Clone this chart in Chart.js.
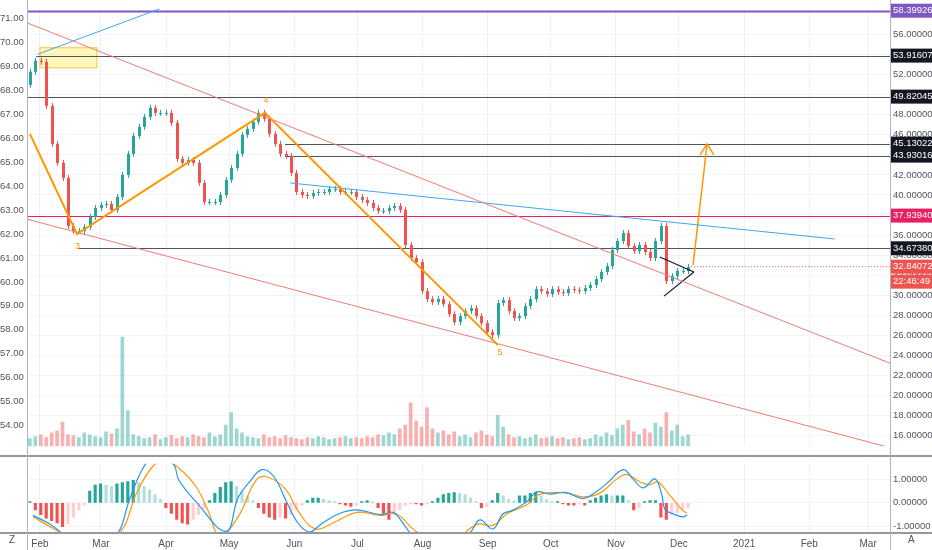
<!DOCTYPE html>
<html>
<head>
<meta charset="utf-8">
<script src="https://cdn.jsdelivr.net/npm/chart.js@4"></script>
<style>
  body { margin: 0; background: #fff; font-family: "Liberation Sans", Arial, sans-serif; }
  #wrap { position: relative; width: 932px; height: 550px; }
  #main { position: absolute; left: 0; top: 0; }
  #macd { position: absolute; left: 0; top: 455px; }
  .corner { position: absolute; top: 534px; font-size: 10px; color: #50535e; }
</style>
</head>
<body>
<div id="wrap">
  <canvas id="main" width="932" height="455"></canvas>
  <canvas id="macd" width="932" height="95"></canvas>
  <div class="corner" style="left:9px">Z</div>
  <div class="corner" style="left:908px">A</div>
</div>
<script>
// candles: one every ~2.6 days starting late January 2020
const startDay = 26.2;
const stepDays = 2.588;
const firstOpen = 51.0;
const closes = [
  52.3, 53.4, 53.3, 48.9, 45.1, 43.2, 41.7, 36.9, 36.4, 36.4,
  36.8, 37.8, 38.7, 39.0, 39.1, 38.5, 39.8, 42.0, 44.1, 45.9,
  46.8, 47.8, 48.7, 48.2, 48.2, 48.2, 47.2, 43.6, 43.2, 43.5,
  43.2, 41.2, 39.3, 39.3, 39.3, 40.0, 41.5, 42.7, 44.1, 46.0,
  46.6, 47.3, 48.2, 47.6, 46.1, 45.1, 44.1, 43.9, 42.2, 40.3,
  40.0, 39.9, 40.2, 40.3, 40.3, 40.6, 40.6, 40.3, 40.3, 40.3,
  39.8, 39.5, 39.2, 38.7, 38.4, 38.4, 38.7, 38.9, 38.5, 35.0,
  33.7, 33.3, 30.4, 29.6, 29.3, 29.6, 29.1, 28.1, 27.3, 27.9,
  28.4, 28.7, 27.9, 27.2, 26.3, 26.0, 29.2, 29.5, 28.4, 27.7,
  27.9, 28.9, 29.6, 30.6, 30.4, 30.1, 30.6, 30.3, 30.2, 30.6,
  30.5, 30.4, 30.7, 31.0, 31.6, 32.3, 32.9, 34.5, 35.4, 36.2,
  34.9, 34.4, 35.0, 34.3, 33.7, 35.4, 36.9, 31.4, 31.9, 32.4,
  32.4, 32.8
];
const volumes = [
  8, 10, 12, 9, 14, 16, 25, 12, 11, 9,
  14, 12, 10, 9, 15, 13, 18, 113, 37, 12,
  10, 8, 9, 12, 7, 9, 11, 8, 10, 9,
  12, 10, 9, 14, 10, 12, 22, 35, 18, 14,
  10, 9, 8, 12, 9, 10, 8, 11, 9, 8,
  7, 9, 8, 10, 9, 7, 8, 9, 10, 8,
  9, 8, 10, 9, 12, 11, 14, 12, 18, 22,
  45, 26, 20, 40, 18, 14, 16, 12, 15, 10,
  12, 9, 14, 16, 12, 10, 32, 20, 12, 9,
  10, 8, 9, 12, 8, 9, 10, 8, 9, 7,
  8, 9, 7, 8, 12, 10, 14, 11, 18, 22,
  27, 15, 12, 18, 14, 24, 20, 35, 16, 22, 10, 12
];
const histogram = [
  0.05, -0.3, -0.5, -0.65, -0.75, -0.85, -1.0, -0.9, -0.6, -0.3,
  -0.1, 0.5, 0.75, 0.8, 0.75, 0.7, 0.8, 0.85, 0.9, 0.95,
  0.85, 0.7, 0.55, 0.35, 0.15, -0.2, -0.45, -0.7, -0.85, -0.9,
  -0.7, -0.5, -0.25, 0.1, 0.4, 0.65, 0.85, 0.9, 0.7, 0.5,
  0.3, 0.1, -0.2, -0.45, -0.6, -0.7, -0.6, -0.65, -0.5, -0.3,
  -0.1, 0.1, 0.2, 0.2, 0.15, 0.1, 0.05, -0.05, -0.1, -0.15,
  -0.1, 0.05, 0.1, 0.05, -0.2, -0.45, -0.7, -0.5, -0.3, -0.1,
  -0.05, -0.05, -0.1, -0.05, 0.05, 0.2, 0.35, 0.4, 0.43, 0.4,
  0.35, 0.2, 0.05, -0.2, -0.15, 0.1, 0.4, 0.3, 0.15, 0.1,
  0.3, 0.3, 0.4, 0.45, 0.3, 0.15, 0.05, 0.05, -0.05, -0.1,
  -0.1, -0.05, -0.1, 0.1, 0.2, 0.3, 0.35, 0.3, 0.3, 0.3,
  0.1, -0.3, -0.2, 0.05, 0.1, 0.1, -0.6, -0.7, -0.5, -0.4, -0.3, -0.2
];
// MACD lines, read at irregular days
const macdDays = [27.7, 34.8, 48.6, 65.7, 74.3, 80, 85.7, 94.3, 97.1, 105.2, 119.5, 125.2, 130.9, 136.6, 142.3, 148, 153.7, 159.4, 164.7, 173.2, 181.8, 193.2, 198.9, 204.6, 210.4, 225, 235.6, 240.3, 246.5, 251.3, 255.5, 262.7, 267.4, 273.6, 280.8, 289.3, 294.1, 300.7, 308.4, 313.1, 317.9, 323.6, 326.9, 328.3, 332.1, 336.9, 338.8];
const macdVals = [-0.53, -0.85, -1.6, -1.5, 0.31, 1.46, 1.97, 1.65, 0.95, 0.05, -1.2, 0.2, 0.9, 1.4, 1.1, 0.1, -0.85, -1.23, -0.9, -0.46, -0.3, -0.5, -0.4, -0.97, -1.6, -2.0, -1.26, -0.72, -1.1, -0.46, -0.33, 0.05, 0.46, 0.37, 0.44, 0.18, 0.37, 0.82, 1.4, 1.01, 0.63, 1.01, 0.31, -0.27, -0.46, -0.59, -0.5];
const signalDays = [27.7, 37.7, 54.3, 68.6, 77.1, 84.3, 90, 97.1, 105.2, 111, 116.6, 125.2, 133.8, 139.5, 148, 153.7, 161.8, 170.4, 181.8, 193.2, 200.4, 210.4, 225, 238.9, 246.5, 253.2, 262.7, 268.9, 281.7, 289.3, 297.4, 305.5, 310.3, 316.5, 321.2, 325, 330.7, 336.9, 338.8];
const signalVals = [-0.59, -1.1, -1.8, -1.3, 0.44, 1.5, 1.8, 1.46, 0.69, -0.33, -1.4, -0.6, 0.95, 1.08, 0.56, -0.33, -1.1, -0.85, -0.4, -0.53, -0.46, -1.23, -1.7, -0.91, -0.95, -0.46, -0.08, 0.37, 0.41, 0.25, 0.41, 1.01, 1.2, 0.88, 0.76, 0.88, 0.31, -0.33, -0.43];

// axis tick labels
const monthDays = [31, 60, 91, 121, 152, 182, 213, 244, 274, 305, 335, 366, 397, 425];
const monthNames = ['Feb', 'Mar', 'Apr', 'May', 'Jun', 'Jul', 'Aug', 'Sep', 'Oct', 'Nov', 'Dec', '2021', 'Feb', 'Mar'];
const leftTicks = [54, 55, 56, 57, 58, 59, 60, 61, 62, 63, 64, 65, 66, 67, 68, 69, 70, 71];
const rightTicks = [16, 18, 20, 22, 24, 26, 28, 30, 32, 34, 36, 38, 40, 42, 44, 46, 48, 50, 52, 54, 56];
const macdTicks = [-1, 0, 1];

// price levels with right-axis tags
const levelValues = [58.39926, 53.91607, 49.82045, 45.13022, 43.93016, 37.9394, 34.6738];
const levelStartDays = [25.3, 29.2, 25.3, 147.6, 147.6, 25.3, 49.5];
const levelColors = ['#7e57c2', '#50535e', '#50535e', '#50535e', '#50535e', '#e91e63', '#50535e'];
const tagColors = ['#7e57c2', '#131722', '#131722', '#131722', '#131722', '#e91e63', '#131722'];
const lastPrice = 32.84072;
const countdown = '22:46:49';

// drawings (day, price)
const upperChannel = [[25.3, 57.15], [435.4, 23.2]];
const lowerChannel = [[25.3, 37.56], [433, 14.9]];
const blueLeft = [[30, 54.06], [88.1, 58.6]];
const blueRight = [[149.9, 41.2], [409.2, 35.6]];
const waveDays = [26.2, 48.6, 138, 248.9];
const wavePrices = [46.1, 36.1, 48.2, 25.0];
const waveLabels = ['3', '4', '5'];
const waveLabelDays = [48.9, 138.5, 249.8];
const waveLabelPrices = [34.6, 49.2, 24.0];
const triTop = [[325.9, 33.8], [342.1, 32.3]];
const triBottom = [[327.9, 29.9], [342.1, 32.3]];
const arrowLine = [[341.7, 33.0], [348.4, 45.1]];
const arrowHead = [[345, 44.0], [348.4, 45.1], [351.6, 44.0]];
const boxDays = [31.0, 58.1];
const boxPrices = [52.7, 54.7];

const UP = '#26a69a', DOWN = '#ef5350';
const candleDays = closes.map((c, i) => startDay + i * stepDays);
const opens = closes.map((c, i) => (i === 0 ? firstOpen : closes[i - 1]));
const xMin = 25.3, xMax = 435.4;
const FONT = '"Liberation Sans", Arial, sans-serif';

const pts = (arr) => arr.map(([x, y]) => ({ x, y }));
function seg(data, color, width, dash) {
  return { type: 'line', data: pts(data), borderColor: color, borderWidth: width || 1, borderDash: dash || [],
    pointRadius: 0, yAxisID: 'y', tension: 0, order: 1 };
}

const fitW = (w) => (s) => { s.width = w; };
const fixedTicks = (list) => (s) => { s.ticks = list.map((v) => ({ value: v })); };

const candlePlugin = {
  id: 'candles',
  beforeDatasetsDraw(chart) {
    const { ctx, chartArea, scales } = chart;
    ctx.save();
    ctx.beginPath();
    ctx.rect(chartArea.left, chartArea.top, chartArea.width, chartArea.height);
    ctx.clip();
    // yellow box
    const bx0 = scales.x.getPixelForValue(boxDays[0]), bx1 = scales.x.getPixelForValue(boxDays[1]);
    const by0 = scales.y.getPixelForValue(boxPrices[1]), by1 = scales.y.getPixelForValue(boxPrices[0]);
    ctx.fillStyle = 'rgba(255,235,59,0.35)';
    ctx.strokeStyle = '#f5c542';
    ctx.fillRect(bx0, by0, bx1 - bx0, by1 - by0);
    ctx.strokeRect(bx0, by0, bx1 - bx0, by1 - by0);
    // level lines
    levelValues.forEach((v, i) => {
      const y = Math.round(scales.y.getPixelForValue(v)) + 0.5;
      ctx.strokeStyle = levelColors[i];
      ctx.lineWidth = i === 0 ? 2 : 1;
      ctx.beginPath();
      ctx.moveTo(scales.x.getPixelForValue(levelStartDays[i]), y);
      ctx.lineTo(chartArea.right, y);
      ctx.stroke();
    });
    // last price dotted
    const ly = scales.y.getPixelForValue(lastPrice);
    ctx.setLineDash([1, 2]);
    ctx.strokeStyle = '#ef5350';
    ctx.lineWidth = 1;
    ctx.beginPath();
    ctx.moveTo(scales.x.getPixelForValue(candleDays[candleDays.length - 1]), ly);
    ctx.lineTo(chartArea.right, ly);
    ctx.stroke();
    ctx.setLineDash([]);
    // candles
    closes.forEach((c, i) => {
      const o = opens[i];
      const x = scales.x.getPixelForValue(candleDays[i]);
      const yo = scales.y.getPixelForValue(o), yc = scales.y.getPixelForValue(c);
      const col = c >= o ? UP : DOWN;
      ctx.strokeStyle = col;
      ctx.fillStyle = col;
      ctx.beginPath();
      ctx.moveTo(Math.round(x) + 0.5, Math.min(yo, yc) - 3);
      ctx.lineTo(Math.round(x) + 0.5, Math.max(yo, yc) + 3);
      ctx.stroke();
      ctx.fillRect(Math.round(x) - 1, Math.min(yo, yc), 3, Math.max(1, Math.abs(yc - yo)));
    });
    ctx.restore();
  },
  afterDraw(chart) {
    const { ctx, chartArea, scales } = chart;
    ctx.save();
    ctx.font = '9px ' + FONT;
    ctx.fillStyle = '#ff9800';
    ctx.textAlign = 'center';
    waveLabels.forEach((t, i) => {
      ctx.fillText(t, scales.x.getPixelForValue(waveLabelDays[i]), scales.y.getPixelForValue(waveLabelPrices[i]));
    });
    // right axis tags
    ctx.font = '9.5px ' + FONT;
    ctx.textAlign = 'left';
    ctx.textBaseline = 'middle';
    const tag = (y, text, bg) => {
      ctx.fillStyle = bg;
      ctx.fillRect(chartArea.right + 1, y - 7, 42, 14);
      ctx.fillStyle = '#fff';
      ctx.fillText(text, chartArea.right + 3, y);
    };
    levelValues.forEach((v, i) => tag(scales.y.getPixelForValue(v), v.toFixed(5), tagColors[i]));
    const ly = scales.y.getPixelForValue(lastPrice);
    tag(ly, lastPrice.toFixed(5), '#ef5350');
    tag(ly + 15, countdown, '#ef5350');
    // borders
    ctx.strokeStyle = '#b2b5be';
    ctx.lineWidth = 1;
    ctx.beginPath();
    ctx.moveTo(chartArea.right + 0.5, 0);
    ctx.lineTo(chartArea.right + 0.5, chart.height);
    ctx.moveTo(chartArea.left - 0.5, 0);
    ctx.lineTo(chartArea.left - 0.5, chart.height);
    ctx.stroke();
    ctx.restore();
  }
};

new Chart(document.getElementById('main'), {
  data: {
    datasets: [
      { type: 'bar', data: volumes.map((v, i) => ({ x: candleDays[i], y: v })), yAxisID: 'v', barThickness: 3,
        backgroundColor: closes.map((c, i) => (c >= opens[i] ? 'rgba(38,166,154,0.45)' : 'rgba(239,83,80,0.45)')), order: 5 },
      seg(upperChannel, '#ef7b74'),
      seg(lowerChannel, '#ef7b74'),
      seg(blueLeft, '#42a5f5'),
      seg(blueRight, '#42a5f5'),
      { type: 'line', data: waveDays.map((d, i) => ({ x: d, y: wavePrices[i] })), borderColor: '#ff9800', borderWidth: 2,
        pointRadius: 0, yAxisID: 'y', tension: 0, order: 0 },
      seg(triTop, '#131722', 1.2),
      seg(triBottom, '#131722', 1.2),
      seg(arrowLine, '#ff9800', 1.5),
      seg(arrowHead, '#ff9800', 1.5)
    ]
  },
  options: {
    responsive: false, animation: false,
    layout: { padding: 0 },
    plugins: { legend: { display: false }, tooltip: { enabled: false } },
    scales: {
      x: { type: 'linear', offset: false, min: xMin, max: xMax, afterBuildTicks: fixedTicks(monthDays), afterFit: (s) => { s.height = 0; },
        ticks: { display: false }, grid: { color: '#eef0f5', drawTicks: false, offset: false }, border: { display: false } },
      y: { position: 'right', min: 14.9, max: 58.6, afterFit: fitW(42), afterBuildTicks: fixedTicks(rightTicks),
        ticks: { color: '#50535e', font: { size: 9.5, family: FONT }, padding: 3, callback: (v) => v.toFixed(5) },
        grid: { color: '#f1f3f7', drawTicks: false }, border: { display: false } },
      yL: { position: 'left', min: 53.14, max: 71.4, afterFit: fitW(28), afterBuildTicks: fixedTicks(leftTicks),
        ticks: { color: '#50535e', font: { size: 9.5, family: FONT }, padding: 0, crossAlign: 'far', callback: (v) => v.toFixed(2) },
        grid: { display: false }, border: { display: false } },
      v: { display: false, min: 0, max: 453 }
    }
  },
  plugins: [candlePlugin]
});

const macdFrame = {
  id: 'frame',
  afterDraw(chart) {
    const { ctx, chartArea } = chart;
    ctx.save();
    ctx.strokeStyle = '#9598a1';
    ctx.lineWidth = 2;
    ctx.beginPath();
    ctx.moveTo(0, 1); ctx.lineTo(chart.width, 1);
    ctx.moveTo(0, chartArea.bottom + 1); ctx.lineTo(chart.width, chartArea.bottom + 1);
    ctx.stroke();
    ctx.lineWidth = 1;
    ctx.strokeStyle = '#b2b5be';
    ctx.beginPath();
    ctx.moveTo(chartArea.right + 0.5, 0); ctx.lineTo(chartArea.right + 0.5, chart.height);
    ctx.moveTo(chartArea.left - 0.5, 0); ctx.lineTo(chartArea.left - 0.5, chart.height);
    ctx.stroke();
    ctx.restore();
  }
};

const histColors = histogram.map((h, i) => {
  const prev = i === 0 ? 0 : histogram[i - 1];
  if (h >= 0) return h >= prev ? '#26a69a' : '#b2dfdb';
  return h <= prev ? '#ef5350' : '#ffcdd2';
});

new Chart(document.getElementById('macd'), {
  data: {
    datasets: [
      { type: 'bar', data: histogram.map((h, i) => ({ x: candleDays[i], y: h })), yAxisID: 'm', barThickness: 2.5,
        backgroundColor: histColors, order: 3 },
      { type: 'line', data: macdDays.map((d, i) => ({ x: d, y: macdVals[i] })), yAxisID: 'm', borderColor: '#2196f3',
        borderWidth: 1.2, pointRadius: 0, tension: 0.4, order: 1 },
      { type: 'line', data: signalDays.map((d, i) => ({ x: d, y: signalVals[i] })), yAxisID: 'm', borderColor: '#ff9800',
        borderWidth: 1.2, pointRadius: 0, tension: 0.4, order: 2 }
    ]
  },
  options: {
    responsive: false, animation: false,
    layout: { padding: { top: 2 } },
    plugins: { legend: { display: false }, tooltip: { enabled: false } },
    scales: {
      x: { type: 'linear', offset: false, min: xMin, max: xMax, afterBuildTicks: fixedTicks(monthDays), afterFit: (s) => { s.height = 18; },
        ticks: { color: '#50535e', font: { size: 10, family: FONT }, padding: 6, maxRotation: 0, autoSkip: false,
          callback: (v) => monthNames[monthDays.indexOf(v)] },
        grid: { color: '#eef0f5', drawTicks: false, offset: false }, border: { display: false } },
      m: { position: 'right', min: -1.23, max: 1.65, afterFit: fitW(42), afterBuildTicks: fixedTicks(macdTicks),
        ticks: { color: '#50535e', font: { size: 9.5, family: FONT }, padding: 3, callback: (v) => v.toFixed(5) },
        grid: { color: '#f1f3f7', drawTicks: false }, border: { display: false } },
      mL: { position: 'left', afterFit: fitW(28), ticks: { display: false }, grid: { display: false }, border: { display: false } }
    }
  },
  plugins: [macdFrame]
});
</script>
</body>
</html>
